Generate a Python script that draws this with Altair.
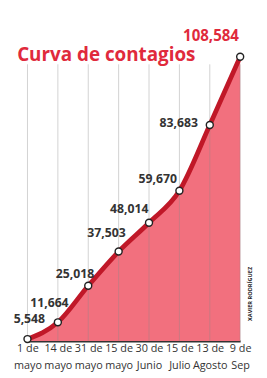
import altair as alt
import pandas as pd

linea1 = ["1 de", "14 de", "31 de", "15 de", "30 de", "15 de", "13 de", "9 de"]
linea2 = ["mayo", "mayo", "mayo", "mayo", "Junio", "Julio", "Agosto", "Sep"]
casos = [5548, 11664, 25018, 37503, 48014, 59670, 83683, 108584]
etiquetas = ["5,548", "11,664", "25,018", "37,503", "48,014", "59,670", "83,683", "108,584"]

df = pd.DataFrame({
    "fecha": [a + "|" + b for a, b in zip(linea1, linea2)],
    "casos": casos,
    "etiqueta": etiquetas,
    "idx": list(range(len(casos))),
})
orden = list(df["fecha"])

W, H = 226, 302
FONT = "Open Sans"

x = alt.X("fecha:N", sort=orden, scale=alt.Scale(type="point", padding=0),
          axis=alt.Axis(title=None, labelExpr="split(datum.label, '|')", labelAngle=0,
                        labelFont=FONT, labelFontSize=11.5, labelColor="#333",
                        labelLineHeight=18, labelPadding=2, ticks=False, grid=False,
                        labelOverlap=False, labelBound=False,
                        domainColor="#333", domainWidth=2, labelBaseline="top"))
y = alt.Y("casos:Q", scale=alt.Scale(domain=[4850, 108584], nice=False, zero=False, clamp=True),
          axis=None)

base = alt.Chart(df)

area = base.mark_area(color="#F2707E", interpolate="monotone").encode(x=x, y=y)
grid = base.mark_rule(color="#888", opacity=0.4, strokeWidth=1).encode(
    x=alt.X("fecha:N", sort=orden), y=alt.value(8), y2=alt.value(H))
line = base.mark_line(color="#C01828", strokeWidth=5, interpolate="monotone").encode(x=x, y=y)
pts = base.mark_point(filled=True, fill="white", stroke="#222", strokeWidth=1.5,
                      size=55, opacity=1).encode(x=x, y=y)

offsets = [(2, -21), (-9, -20), (-14, -12), (-13, -19), (-21, -14), (-23, -12), (-33, -2), (-31, -22)]
labels = []
for i, (dx, dy) in enumerate(offsets):
    last = i == len(offsets) - 1
    labels.append(
        base.transform_filter(f"datum.idx == {i}").mark_text(
            font=FONT, fontWeight="bold", fontSize=16 if last else 13,
            color="#E02A3C" if last else "#333", dx=dx, dy=dy,
            align="center", baseline="middle"
        ).encode(x=x, y=y, text="etiqueta:N")
    )

titulo = alt.Chart(pd.DataFrame({"t": ["Curva de contagios"]})).mark_text(
    font=FONT, fontWeight="bold", fontSize=20, color="#E02A3C", align="left",
    baseline="alphabetic"
).encode(x=alt.value(-11), y=alt.value(4), text="t:N")

credito = alt.Chart(pd.DataFrame({"t": ["XAVIER RODRÍGUEZ"]})).mark_text(
    font=FONT, fontWeight="bold", fontSize=6, color="#222", angle=270,
    align="center", baseline="middle"
).encode(x=alt.value(237), y=alt.value(252), text="t:N")

chart = alt.layer(area, grid, line, pts, *labels, titulo, credito).properties(
    width=W, height=H,
    autosize=alt.AutoSizeParams(type="none"),
    padding={"left": 20.7, "top": 40, "right": 20, "bottom": 36},
    background="white",
).configure_view(stroke=None)

chart.save("out.html", embed_options={"renderer": "svg", "actions": False})
